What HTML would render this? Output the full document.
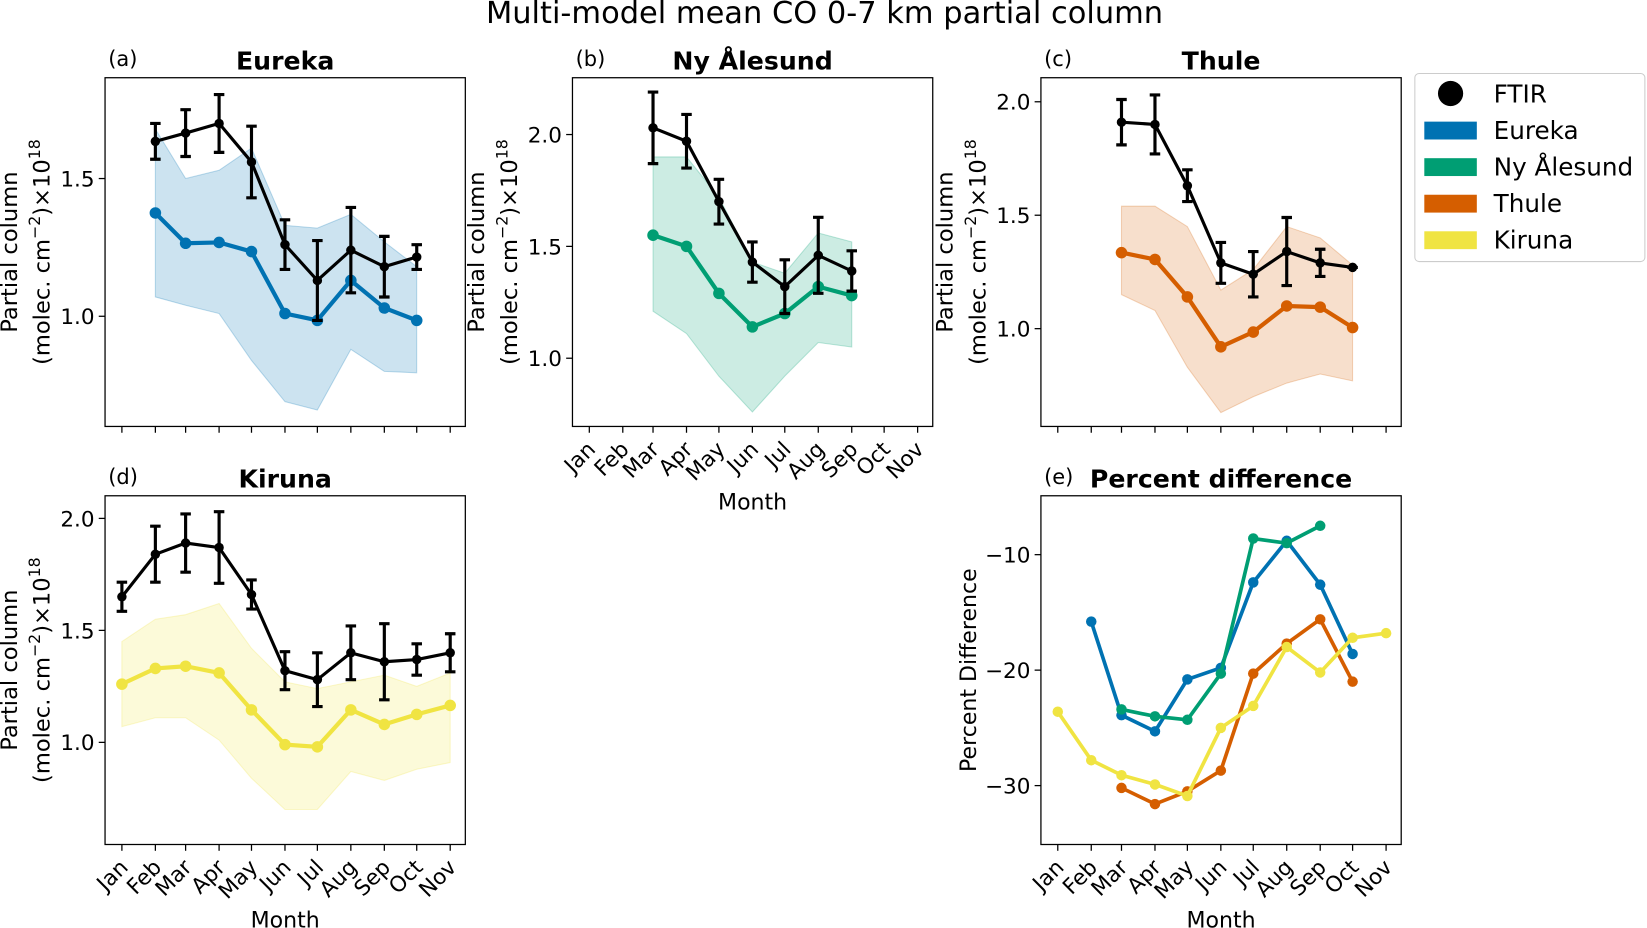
<!DOCTYPE html>
<html><head><meta charset="utf-8"><style>
html,body{margin:0;padding:0;background:#fff}
svg{display:block;font-family:"DejaVu Sans","Liberation Sans",sans-serif}
</style></head><body>
<svg id="fig" width="1647" height="928" viewBox="0 0 1568 883.5">
<text x="785" y="22" font-size="29" text-anchor="middle">Multi-model mean CO 0-7 km partial column</text>
<g id="legend">
<rect x="1347" y="70" width="219" height="179" rx="4" fill="#fff" stroke="#ccc" stroke-width="1"/>
</g>
</svg>
<script>
const months=["Jan","Feb","Mar","Apr","May","Jun","Jul","Aug","Sep","Oct","Nov"];
const monthDays=[0,31,59,90,120,151,181,212,243,273,304];
const eurekaMonths=[1,2,3,4,5,6,7,8,9];
const eurekaModel=[1.375,1.265,1.268,1.235,1.01,0.985,1.13,1.03,0.985];
const eurekaUpper=[1.68,1.50,1.53,1.61,1.33,1.32,1.37,1.27,1.18];
const eurekaLower=[1.07,1.04,1.01,0.84,0.69,0.66,0.88,0.80,0.795];
const eurekaFtir=[1.635,1.665,1.70,1.56,1.26,1.13,1.24,1.18,1.215];
const eurekaErr=[0.065,0.085,0.105,0.13,0.09,0.145,0.155,0.11,0.045];
const nyMonths=[2,3,4,5,6,7,8];
const nyModel=[1.55,1.50,1.29,1.14,1.20,1.32,1.28];
const nyUpper=[1.90,1.90,1.72,1.43,1.38,1.56,1.52];
const nyLower=[1.21,1.11,0.92,0.76,0.92,1.07,1.05];
const nyFtir=[2.03,1.97,1.70,1.43,1.32,1.46,1.39];
const nyErr=[0.16,0.12,0.10,0.09,0.12,0.17,0.09];
const thuleMonths=[2,3,4,5,6,7,8,9];
const thuleModel=[1.335,1.305,1.14,0.92,0.985,1.10,1.095,1.005];
const thuleUpper=[1.54,1.54,1.45,1.17,1.26,1.45,1.40,1.28];
const thuleLower=[1.15,1.08,0.83,0.63,0.70,0.76,0.80,0.77];
const thuleFtir=[1.91,1.90,1.63,1.29,1.24,1.34,1.29,1.27];
const thuleErr=[0.10,0.13,0.07,0.09,0.10,0.15,0.06,0];
const kirunaMonths=[0,1,2,3,4,5,6,7,8,9,10];
const kirunaModel=[1.26,1.33,1.34,1.31,1.145,0.99,0.98,1.145,1.08,1.125,1.165];
const kirunaUpper=[1.45,1.55,1.57,1.62,1.42,1.27,1.24,1.27,1.30,1.25,1.31];
const kirunaLower=[1.07,1.11,1.11,1.01,0.84,0.70,0.70,0.87,0.83,0.88,0.91];
const kirunaFtir=[1.65,1.84,1.89,1.87,1.66,1.32,1.28,1.40,1.36,1.37,1.40];
const kirunaErr=[0.065,0.125,0.13,0.16,0.065,0.085,0.12,0.12,0.17,0.07,0.085];
const pdEureka=[-15.8,-23.9,-25.3,-20.8,-19.8,-12.4,-8.8,-12.6,-18.6];
const pdNy=[-23.4,-24.0,-24.3,-20.3,-8.6,-9.0,-7.5];
const pdThule=[-30.2,-31.6,-30.5,-28.7,-20.3,-17.7,-15.6,-21.0];
const pdKiruna=[-23.6,-27.8,-29.1,-29.9,-30.9,-25.0,-23.1,-18.0,-20.2,-17.2,-16.8];
const colors={eureka:"#0072B2",ny:"#009E73",thule:"#D55E00",kiruna:"#F0E442"};

const NS="http://www.w3.org/2000/svg";
const svg=document.getElementById("fig");
function el(tag,attrs,parent){const e=document.createElementNS(NS,tag);for(const k in attrs)e.setAttribute(k,attrs[k]);(parent||svg).appendChild(e);return e;}

function makeAxes(o){
  const g=el("g",{});
  
  
  const x=d=>o.x0+(d-(-15.6))/(318-(-15.6))*(o.x1-o.x0);
  const y=v=>o.y1-(v-o.ymin)/(o.ymax-o.ymin)*(o.y1-o.y0);
  o.g=g;o.x=x;o.y=y;
  const fr=el("rect",{x:o.x0,y:o.y0,width:o.x1-o.x0,height:o.y1-o.y0,fill:"none",stroke:"#000","stroke-width":1.2},g);
  
  
  months.forEach((m,i)=>{
    const tx=x(monthDays[i]);
    el("line",{x1:tx,x2:tx,y1:o.y1,y2:o.y1+6,stroke:"#000","stroke-width":1.2},g);
    if(o.xlabels){
      const t=el("text",{x:tx+7,y:o.y1+23,"font-size":20.5,"text-anchor":"end",transform:`rotate(-45 ${tx+7} ${o.y1+23})`},g);
      t.textContent=m;
      
      
    }
  });
  if(o.xlabels){
    const t=el("text",{x:(o.x0+o.x1)/2,y:o.y1+79,"font-size":21,"text-anchor":"middle"},g);
    t.textContent="Month";
    
    
  }
  o.yticks.forEach(v=>{
    const ty=y(v);
    el("line",{x1:o.x0-6,x2:o.x0,y1:ty,y2:ty,stroke:"#000","stroke-width":1.2},g);
    const t=el("text",{x:o.x0-10,y:ty+7.5,"font-size":20.5,"text-anchor":"end"},g);
    t.textContent=o.ytickfmt(v);
    
    
  });
  const tt=el("text",{x:(o.x0+o.x1)/2,y:o.y0-8,"font-size":24,"font-weight":"bold","text-anchor":"middle"},g);
  tt.textContent=o.title;
  
  
  const pl=el("text",{x:o.x0+3,y:o.y0-11,"font-size":20},g);
  pl.textContent=o.letter;
  
  
  const cy=(o.y0+o.y1)/2;
  if(o.pct){
    const t=el("text",{x:0,y:0,"font-size":21,"text-anchor":"middle",transform:`translate(${o.x0-62},${cy}) rotate(-90)`},g);
    t.textContent="Percent Difference";
    
    
  } else {
    const t1=el("text",{x:0,y:0,"font-size":21.5,"text-anchor":"middle",transform:`translate(${o.x0-84},${cy}) rotate(-90)`},g);
    t1.textContent="Partial column";
    
    
    const t2=el("text",{x:0,y:0,"font-size":21.5,"text-anchor":"middle",transform:`translate(${o.x0-53},${cy}) rotate(-90)`},g);
    t2.innerHTML='(molec. cm<tspan dy="-9" font-size="15">−2</tspan><tspan dy="9">)×10</tspan><tspan dy="-9" font-size="15">18</tspan>';
    
    
  }
  return o;
}
function path(pts){return pts.map((p,i)=>(i?"L":"M")+p[0].toFixed(1)+" "+p[1].toFixed(1)).join(" ");}
function station(ax,mi,model,up,lo,ftir,err,col){
  const xs=mi.map(i=>ax.x(monthDays[i]));
  const poly=xs.map((x,i)=>[x,ax.y(up[i])]).concat(xs.map((x,i)=>[x,ax.y(lo[i])]).reverse());
  const band=el("path",{d:path(poly)+"Z",fill:col,"fill-opacity":0.2,stroke:col,"stroke-opacity":0.25},ax.g);
  
  
  const ml=el("path",{d:path(xs.map((x,i)=>[x,ax.y(model[i])])),fill:"none",stroke:col,"stroke-width":4},ax.g);
  
  
  xs.forEach((x,i)=>{
    const c=el("circle",{cx:x,cy:ax.y(model[i]),r:5.5,fill:col},ax.g);
    
    
  });
  const fl=el("path",{d:path(xs.map((x,i)=>[x,ax.y(ftir[i])])),fill:"none",stroke:"#000","stroke-width":3},ax.g);
  
  
  xs.forEach((x,i)=>{
    const a=ax.y(ftir[i]+err[i]),b=ax.y(ftir[i]-err[i]);
    const e=el("path",{d:`M${x} ${a}L${x} ${b}M${x-5} ${a}L${x+5} ${a}M${x-5} ${b}L${x+5} ${b}`,stroke:"#000","stroke-width":3,fill:"none"},ax.g);
    
    
    const c=el("circle",{cx:x,cy:ax.y(ftir[i]),r:4.5,fill:"#000"},ax.g);
    
    
  });
}
const fmt1=v=>v.toFixed(1);
const A=makeAxes({name:"panel-eureka",x0:100,x1:443,y0:74,y1:406,ymin:0.6,ymax:1.866,yticks:[1.0,1.5],ytickfmt:fmt1,title:"Eureka",letter:"(a)"});
station(A,eurekaMonths,eurekaModel,eurekaUpper,eurekaLower,eurekaFtir,eurekaErr,colors.eureka);
const B=makeAxes({name:"panel-ny-alesund",x0:545,x1:888,y0:74,y1:406,ymin:0.695,ymax:2.254,yticks:[1.0,1.5,2.0],ytickfmt:fmt1,title:"Ny Ålesund",letter:"(b)",xlabels:true});
station(B,nyMonths,nyModel,nyUpper,nyLower,nyFtir,nyErr,colors.ny);
const C=makeAxes({name:"panel-thule",x0:991,x1:1334,y0:74,y1:406,ymin:0.569,ymax:2.106,yticks:[1.0,1.5,2.0],ytickfmt:fmt1,title:"Thule",letter:"(c)"});
station(C,thuleMonths,thuleModel,thuleUpper,thuleLower,thuleFtir,thuleErr,colors.thule);
const D=makeAxes({name:"panel-kiruna",x0:100,x1:443,y0:472,y1:804,ymin:0.544,ymax:2.101,yticks:[1.0,1.5,2.0],ytickfmt:fmt1,title:"Kiruna",letter:"(d)",xlabels:true});
station(D,kirunaMonths,kirunaModel,kirunaUpper,kirunaLower,kirunaFtir,kirunaErr,colors.kiruna);
const E=makeAxes({name:"panel-percent-difference",x0:991,x1:1334,y0:472,y1:804,ymin:-35.1,ymax:-4.9,yticks:[-10,-20,-30],ytickfmt:v=>"−"+Math.abs(v),title:"Percent difference",letter:"(e)",xlabels:true,pct:true});
function pdLine(mi,vals,col,name){
  const xs=mi.map(i=>E.x(monthDays[i]));
  const l=el("path",{d:path(xs.map((x,i)=>[x,E.y(vals[i])])),fill:"none",stroke:col,"stroke-width":3.5},E.g);
  
  
  xs.forEach((x,i)=>{
    const c=el("circle",{cx:x,cy:E.y(vals[i]),r:5,fill:col},E.g);
    
    
  });
}
pdLine(eurekaMonths,pdEureka,colors.eureka,"pd-eureka-line");
pdLine(nyMonths,pdNy,colors.ny,"pd-ny-alesund-line");
pdLine(thuleMonths,pdThule,colors.thule,"pd-thule-line");
pdLine(kirunaMonths,pdKiruna,colors.kiruna,"pd-kiruna-line");

const lg=document.getElementById("legend");
const entries=[["FTIR",null],["Eureka",colors.eureka],["Ny Ålesund",colors.ny],["Thule",colors.thule],["Kiruna",colors.kiruna]];
entries.forEach((e,i)=>{
  const cy=89+i*34.8;
  if(e[1]){
    const r=el("rect",{x:1356,y:cy-8,width:50,height:17,fill:e[1]},lg);
    
    
  } else {
    const c=el("circle",{cx:1381,cy:cy,r:12,fill:"#000"},lg);
    
    
  }
  const t=el("text",{x:1422,y:cy+8.5,"font-size":23.5},lg);
  t.textContent=e[0];
  
  
});
</script>
</body></html>
